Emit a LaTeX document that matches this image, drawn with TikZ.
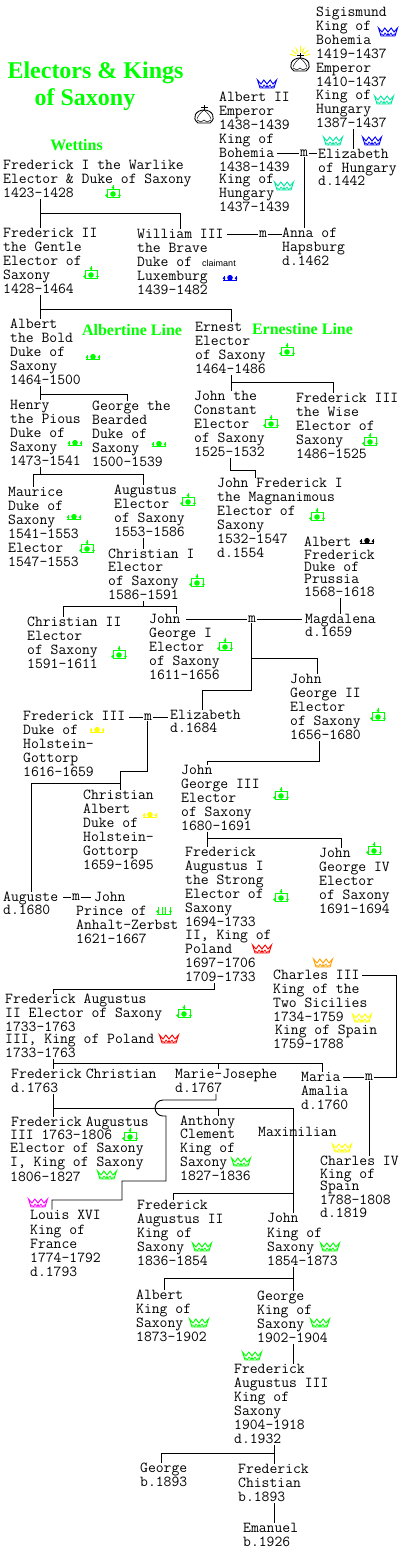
\documentclass[tikz,border=0pt]{standalone}
\usepackage{fontspec}
\newfontfamily\serifb{Liberation Serif}[BoldFont={Liberation Serif Bold}]
\newfontfamily\sansf{Liberation Sans}
\definecolor{cgreen}{HTML}{00FF00}
\definecolor{cteal}{HTML}{00E8A0}
\definecolor{cblue}{HTML}{0000FF}
\definecolor{cred}{HTML}{FF0000}
\definecolor{cyel}{HTML}{FFFF00}
\definecolor{corange}{HTML}{FFA000}
\definecolor{cmag}{HTML}{FF00FF}
\tikzset{
  x=1pt,y=-1pt,
  txt/.style={anchor=north west,inner sep=0pt,align=left,font=\fontsize{15.24}{14}\selectfont\ttfamily},
  wed/.style={inner sep=0.6pt,font=\fontsize{15.24}{14}\selectfont\ttfamily},
  ttl/.style={text=cgreen,inner sep=0pt,anchor=center,font=\fontsize{24}{28}\selectfont\serifb\bfseries},
  sub/.style={text=cgreen,inner sep=0pt,anchor=center,font=\fontsize{16}{18}\selectfont\serifb\bfseries},
  lnk/.style={draw=black,line width=0.9pt},
  kingcrown/.pic={
    \draw[#1,line width=0.9pt,line join=miter]
      (-9.5,-4) -- (-6,0) -- (-3.2,-4) -- (0,0) -- (3.2,-4) -- (6,0) -- (9.5,-4) -- (7,4) -- (-7,4) -- cycle;
    \draw[#1,line width=0.7pt] (-7.5,1.5) -- (-4.5,3.5) -- (-3,1) -- (-1,3.5) -- (0,1.5) -- (1,3.5) -- (3,1) -- (4.5,3.5) -- (7.5,1.5);
  },
  electcrown/.pic={
    \draw[#1,line width=1pt] (-6,5) -- (-6,-2.5) -- (6,-2.5) -- (6,5) -- cycle;
    \fill[#1] (0,2) circle (2.8) (-6.5,3.5) circle (1.4) (6.5,3.5) circle (1.4) (0,-4.5) circle (1.4);
    \draw[#1,line width=1pt] (0,-7) -- (0,-2.5);
  },
  ducal/.pic={
    \fill[#1] (0,-0.3) circle (2.8) (-6,0.3) circle (1.4) (6,0.3) circle (1.4);
    \draw[#1,line width=1pt] (-7,2.2) -- (7,2.2);
    \draw[#1,line width=1pt] (-6,-2) -- (-6,2) (6,-2) -- (6,2);
  },
  anhalt/.pic={
    \draw[#1,line width=1pt] (-7,4) -- (7,4) (-6,-3) -- (-6,4) (-1.5,-3) -- (-1.5,4) (1.5,-3) -- (1.5,4) (6,-3) -- (6,4);
    \fill[#1] (-6.5,1.5) circle (1.4) (6.5,1.5) circle (1.4);
  },
  orb/.pic={
    \draw[black,line width=0.9pt]
      (-6,8) .. controls (-13,3) and (-8,-5) .. (0,-5) .. controls (8,-5) and (13,3) .. (6,8) -- cycle;
    \draw[black,line width=0.9pt] (0,-10) -- (0,-5) (-3.5,-7.5) -- (3.5,-7.5);
    \draw[black,line width=0.5pt]
      (0,-5) .. controls (-4,-2) and (-6,1) .. (-7,4) (0,-5) .. controls (4,-2) and (6,1) .. (7,4)
      (-7,5) -- (-3,7) -- (0,5) -- (3,7) -- (7,5);
  },
}
\newcommand\T[4]{\node[txt] (#1) at (#2-1,#3-5.4) {\rule{0pt}{10pt}#4\rule[-.85pt]{0pt}{.85pt}};}
\begin{document}
\begin{tikzpicture}
\useasboundingbox (0,0) rectangle (404,1552);
\fill[white] (0,0) rectangle (404,1552);

% titles
\node[ttl] (title1) at (95.5,73) {Electors \& Kings};
\node[ttl] (title2) at (85,100) {of Saxony};
\node[sub] (wettins) at (76.5,145) {Wettins};
\node[sub] (albl) at (132,330) {Albertine Line};
\node[sub] (ernl) at (302.5,329) {Ernestine Line};
\node[inner sep=0pt,font=\fontsize{9}{10}\selectfont\sansf] (claim) at (219,263) {claimant};

% people
\T{sig}{317}{12}{Sigismund\\King of\\Bohemia\\1419–1437\\Emperor\\1410–1437\\[-1pt]King of\\Hungary\\1387–1437}
\T{alb}{220}{97}{Albert II\\Emperor\\1438–1439\\King of\\Bohemia\\1438–1439\\[-2pt]King of\\Hungary\\1437–1439}
\T{elh}{319}{154}{Elizabeth\\of Hungary\\[-1pt]d.1442}
\T{fr1}{4}{165}{Frederick I the Warlike\\Elector \& Duke of Saxony\\1423–1428}
\T{fr2}{4}{233}{Frederick II\\the Gentle\\Elector of\\Saxony\\1428–1464}
\T{wil}{138}{234}{William III\\the Brave\\Duke of\\Luxemburg\\1439–1482}
\T{ann}{283}{233}{Anna of\\Hapsburg\\d.1462}
\T{abo}{11}{324}{Albert\\the Bold\\Duke of\\Saxony\\1464–1500}
\T{ern}{196}{327}{Ernest\\Elector\\of Saxony\\1464–1486}
\T{hen}{11}{405}{Henry\\the Pious\\Duke of\\Saxony\\1473–1541}
\T{gbe}{93}{406}{George the\\Bearded\\Duke of\\Saxony\\1500–1539}
\T{jco}{195}{396}{John the\\Constant\\Elector\\of Saxony\\1525–1532}
\T{fwi}{297}{398}{Frederick III\\the Wise\\Elector of\\Saxony\\1486–1525}
\T{mau}{9}{492}{Maurice\\Duke of\\Saxony\\1541–1553\\Elector\\1547–1553}
\T{aug}{115}{490}{Augustus\\Elector\\of Saxony\\1553–1586}
\T{chr1}{109}{554}{Christian I\\[-1pt]Elector\\of Saxony\\1586–1591}
\T{jfr}{218}{483}{John Frederick I\\the Magnanimous\\Elector of\\Saxony\\1532–1547\\d.1554}
\T{afr}{305}{542}{Albert\\[-1pt]Frederick\\[-2pt]Duke of\\[-2pt]Prussia\\[-1pt]1568–1618}
\T{chr2}{28}{622}{Christian II\\Elector\\of Saxony\\1591–1611}
\T{jg1}{150}{619}{John\\George I\\Elector\\of Saxony\\1611–1656}
\T{mag}{306}{619}{Magdalena\\[-1pt]d.1659}
\T{jg2}{291}{679}{John\\George II\\Elector\\of Saxony\\1656–1680}
\T{fho}{24}{716}{Frederick III\\Duke of\\Holstein–\\Gottorp\\1616–1659}
\T{eli}{171}{715}{Elizabeth\\[-1pt]d.1684}
\T{jg3}{182}{770}{John\\George III\\Elector\\of Saxony\\1680–1691}
\T{cal}{84}{795}{Christian\\Albert\\Duke of\\Holstein–\\Gottorp\\1659–1695}
\T{fa1}{186}{852}{Frederick\\Augustus I\\the Strong\\Elector of\\Saxony\\1694–1733\\[-1pt]II, King of\\Poland\\1697–1706\\1709–1733}
\T{jg4}{320}{853}{John\\George IV\\Elector\\of Saxony\\1691–1694}
\T{agt}{4}{897}{Auguste\\[-1pt]d.1680}
\T{jze}{77}{897}{\hspace*{18pt}John\\Prince of\\Anhalt–Zerbst\\1621–1667}
\T{ch3}{274}{975}{Charles III\\King of the\\Two Sicilies\\1734–1759\\[-1pt]\hspace*{2pt}King of Spain\\1759–1788}
\T{fa2}{6}{999}{Frederick Augustus\\II Elector of Saxony\\1733–1763\\[-2pt]III, King of Poland\\1733–1763}
\T{fch}{12}{1074}{Frederick\hspace*{4pt}Christian\\d.1763}
\T{mjo}{176}{1074}{Marie–Josephe\\d.1767}
\T{mam}{302}{1077}{Maria\\Amalia\\d.1760}
\T{fa3}{11}{1122}{\hspace*{1pt}Frederick\hspace*{4pt}Augustus\\[-1pt]III 1763–1806\\[-1pt]Elector of Saxony\\I, King of Saxony\\[1pt]1806–1827}
\T{ant}{181}{1121}{Anthony\\[-1pt]Clement\\King of\\Saxony\\1827–1836}
\T{max}{259}{1132}{Maximilian}
\T{ch4}{321}{1161}{Charles IV\\[-1pt]King of\\[-2pt]Spain\\1788–1808\\[-1pt]d.1819}
\T{lou}{31}{1215}{Louis XVI\\[1pt]King of\\France\\1774–1792\\d.1793}
\T{fak}{138}{1205}{Frederick\\Augustus II\\King of\\Saxony\\1836–1854}
\T{jok}{268}{1218}{John\\[1pt]King of\\Saxony\\1854–1873}
\T{alk}{137}{1295}{Albert\\King of\\Saxony\\1873–1902}
\T{gek}{258}{1296}{George\\King of\\Saxony\\1902–1904}
\T{fk3}{235}{1369}{Frederick\\Augustus III\\King of\\Saxony\\1904–1918\\d.1932}
\T{gb}{141}{1468}{George\\b.1893}
\T{fcb}{239}{1469}{Frederick\\Chistian\\b.1893}
\T{ema}{244}{1528}{Emanuel\\b.1926}

% marriage marks
\node[wed] (m1) at (304,153) {m};
\node[wed] (m2) at (263,234) {m};
\node[wed] (m3) at (252,619) {m};
\node[wed] (m4) at (148,717) {m};
\node[wed] (m5) at (76,897.5) {m};
\node[wed] (m6) at (369,1077) {m};

% connectors
\draw[lnk] (277,0 |- m1) -- (m1.west);
\draw[lnk] (m1.east) -- (317,0 |- m1);
\draw[lnk] (304,0 |- m1.south) -- (304,0 |- ann.north);
\draw[lnk] (353,0 |- sig.south) -- (353,0 |- elh.north);
\draw[lnk] (227,0 |- m2) -- (m2.west);
\draw[lnk] (m2.east) -- (282,0 |- m2);
\draw[lnk] (40,0 |- fr1.south) -- (40,0 |- fr2.north);
\draw[lnk] (40,213) -| (180,0 |- wil.north);
\draw[lnk] (40,0 |- fr2.south) -- (40,0 |- abo.north);
\draw[lnk] (40,309) -| (231,0 |- ern.north);
\draw[lnk] (40,0 |- abo.south) -- (40,0 |- hen.north);
\draw[lnk] (40,394) -| (127,0 |- gbe.north);
\draw[lnk] (231,0 |- ern.south) -- (231,0 |- jco.north);
\draw[lnk] (231,382) -| (333,0 |- fwi.north);
\draw[lnk] (40,0 |- hen.south) -- (40,474);
\draw[lnk] (33,0 |- mau.north) |- (143,474) -- (143,0 |- aug.north);
\draw[lnk] (143,0 |- aug.south) -- (143,0 |- chr1.north);
\draw[lnk] (230,0 |- jco.south) |- (255,470) -- (255,0 |- jfr.north);
\draw[lnk] (143,0 |- chr1.south) -- (143,606);
\draw[lnk] (63,0 |- chr2.north) |- (176,606) -- (176,0 |- jg1.north);
\draw[lnk] (186,0 |- m3) -- (m3.west);
\draw[lnk] (m3.east) -- (302,0 |- m3);
\draw[lnk] (340,0 |- afr.south) -- (340,0 |- mag.north);
\draw[lnk] (251,0 |- m3.south) -- (251,690) -| (202,0 |- eli.north);
\draw[lnk] (251,658) -| (317,0 |- jg2.north);
\draw[lnk] (129,0 |- m4) -- (m4.west);
\draw[lnk] (m4.east) -- (168,0 |- m4);
\draw[lnk] (147,0 |- m4.south) -- (147,771) -| (120,0 |- cal.north);
\draw[lnk] (120,783) -| (31,0 |- agt.north);
\draw[lnk] (319,0 |- jg2.south) |- (207,761) -- (207,0 |- jg3.north);
\draw[lnk] (207,0 |- jg3.south) -- (207,0 |- fa1.north);
\draw[lnk] (207,838) -| (341,0 |- jg4.north);
\draw[lnk] (63,0 |- m5) -- (m5.west);
\draw[lnk] (m5.east) -- (91,0 |- m5);
\draw[lnk] (214,0 |- fa1.south) |- (53,989) -- (53,0 |- fa2.north);
\draw[lnk] (362,975) -| (396,0 |- m6) -- (m6.east);
\draw[lnk] (343,0 |- m6) -- (m6.west);
\draw[lnk] (369,0 |- m6.south) -- (369,0 |- ch4.north);
\draw[lnk] (53,0 |- fa2.south) -- (53,0 |- fch.north);
\draw[lnk] (53,1063) -| (322,0 |- mam.north);
\draw[lnk] (218,1063) -- (218,0 |- mjo.north);
\draw[lnk] (53,0 |- fch.south) -- (53,0 |- fa3.north);
\draw[lnk] (53,1108) -| (293,0 |- jok.north);
\draw[lnk] (218,1108) -- (218,0 |- ant.north);
\draw[lnk] (293,1193) -| (173,0 |- fak.north);
\draw[lnk] (216,0 |- mjo.south) |- (163,1100) arc[start angle=-90,end angle=-270,radius=8] -- (166,1116) |- (122,1181) |- (52,1200) -- (52,0 |- lou.north);
\draw[lnk] (293,0 |- jok.south) -- (293,0 |- gek.north);
\draw[lnk] (293,1278) -| (164,0 |- alk.north);
\draw[lnk] (293,0 |- gek.south) -- (293,0 |- fk3.north);
\draw[lnk] (274,0 |- fk3.south) -- (274,0 |- fcb.north);
\draw[lnk] (274,1453) -| (161,0 |- gb.north);
\draw[lnk] (274,0 |- fcb.south) -- (274,0 |- ema.north);

% crowns
\foreach \c/\x/\y in {cblue/388/32,cteal/384/100,cteal/333/141,cblue/372/141,cblue/267/84,cteal/284/186,
  cred/262/949,corange/323/963,cyel/362/1018,cred/169/1039,cgreen/241/1162,cgreen/107/1175,cyel/342/1148,
  cmag/38/1203,cgreen/202/1247,cgreen/330/1247,cgreen/199/1323,cgreen/320/1323,cgreen/252/1356}
  \pic at (\x,\y) {kingcrown=\c};
\foreach \x/\y in {113/192,91/273,287/350,271/422,370/440,188/500,87/547,197/581,317/515,
  119/653,225/645,378/715,281/794,374/849,281/896,184/1012,130/1135}
  \pic at (\x,\y) {electcrown=cgreen};
\foreach \c/\x/\y in {cblue/230/278,cgreen/93/357,cgreen/75/443,cgreen/159/444,cgreen/74/517,black/367/541,cyel/97/730,cyel/150/815}
  \pic at (\x,\y) {ducal=\c};
\pic at (164,910) {anhalt=cgreen};
\pic at (300,63) {orb};
\pic at (204,115) {orb};
\foreach \a in {15,40,65,90,115,140,165}
  \draw[cyel,line width=0.9pt] (300,57) ++(-\a:4.5) -- ++(-\a:6);
\end{tikzpicture}
\end{document}
